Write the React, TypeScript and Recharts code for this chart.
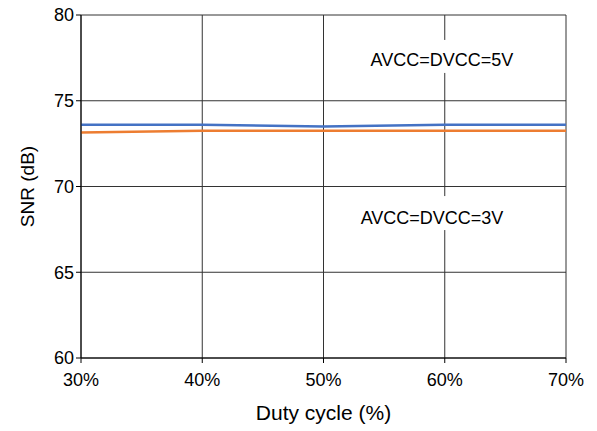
import React from "react";
import {
  LineChart,
  Line,
  XAxis,
  YAxis,
  CartesianGrid,
  ReferenceDot,
  Label,
} from "recharts";

// duty cycle sweep (%)
const dutyCycle = [30, 40, 50, 60, 70];
// SNR (dB) at each supply voltage
const snr5V = [73.6, 73.6, 73.5, 73.6, 73.6];
const snr3V = [73.15, 73.25, 73.25, 73.25, 73.25];

const xTicks = [30, 40, 50, 60, 70];
const yTicks = [60, 65, 70, 75, 80];

const data = dutyCycle.map((d, i) => ({ duty: d, v5: snr5V[i], v3: snr3V[i] }));

const FONT = "Liberation Sans, Arial, sans-serif";

// text box with white fill so the grid stops behind the annotation
const BoxLabel = (props: any) => {
  const { viewBox, value, boxTop, boxBottom } = props;
  const cx = viewBox.x + (viewBox.width || 0) / 2;
  const cy = viewBox.y + (viewBox.height || 0) / 2;
  const w = 158;
  return (
    <g>
      <rect x={cx - w / 2} y={cy - boxTop} width={w} height={boxTop + boxBottom} fill="#fff" />
      <text
        x={cx}
        y={cy}
        textAnchor="middle"
        dominantBaseline="central"
        fontFamily={FONT}
        fontSize={18}
        fill="#000"
      >
        {value}
      </text>
    </g>
  );
};

export default function App() {
  return (
    <div style={{ position: "absolute", left: 0, top: 0, background: "#fff" }}>
      <LineChart
        width={597}
        height={431}
        data={data}
        margin={{ top: 15, right: 31, bottom: 3, left: 21 }}
      >
        <CartesianGrid stroke="#333" strokeWidth={1} />
        <XAxis
          dataKey="duty"
          type="number"
          domain={[30, 70]}
          ticks={xTicks}
          tickFormatter={(v) => `${v}%`}
          stroke="#000"
          tickSize={5}
          tickMargin={10}
          tick={{ fill: "#000", fontSize: 18, fontFamily: FONT }}
          height={70}
        >
          <Label
            value="Duty cycle (%)"
            position="insideBottom"
            offset={8}
            style={{ fill: "#000", fontSize: 21, fontFamily: FONT }}
          />
        </XAxis>
        <YAxis
          type="number"
          domain={[60, 80]}
          ticks={yTicks}
          stroke="#000"
          tickSize={5}
          tick={{ fill: "#000", fontSize: 18, fontFamily: FONT }}
          width={60}
        >
          <Label
            value="SNR (dB)"
            angle={-90}
            position="insideLeft"
            offset={6}
            style={{ fill: "#000", fontSize: 19, fontFamily: FONT, textAnchor: "middle" }}
          />
        </YAxis>
        <ReferenceDot
          x={59.77}
          y={77.38}
          r={0}
          ifOverflow="visible"
          label={<BoxLabel value="AVCC=DVCC=5V" boxTop={20} boxBottom={13} />}
        />
        <ReferenceDot
          x={58.95}
          y={68.16}
          r={0}
          ifOverflow="visible"
          label={<BoxLabel value="AVCC=DVCC=3V" boxTop={22} boxBottom={12} />}
        />
        <Line
          dataKey="v5"
          stroke="#4472C4"
          strokeWidth={2.5}
          dot={false}
          isAnimationActive={false}
        />
        <Line
          dataKey="v3"
          stroke="#ED7D31"
          strokeWidth={2.5}
          dot={false}
          isAnimationActive={false}
        />
      </LineChart>
    </div>
  );
}
